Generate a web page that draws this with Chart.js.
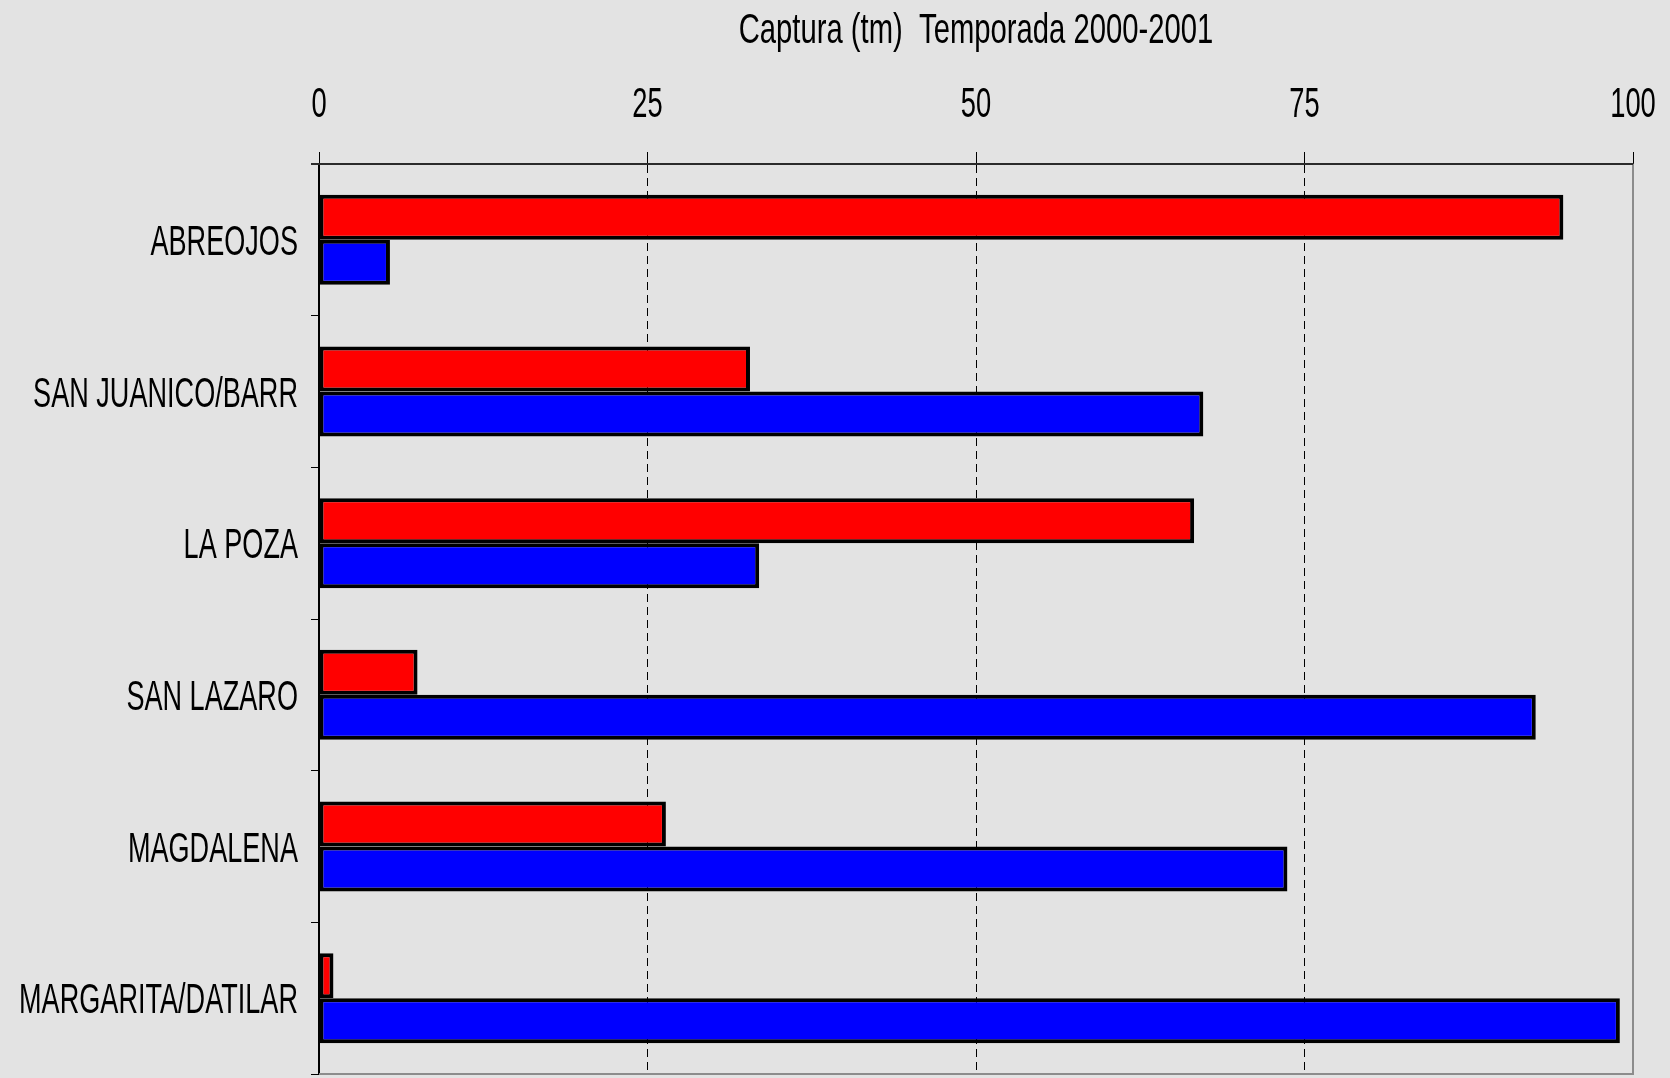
<!DOCTYPE html>
<html>
<head>
<meta charset="utf-8">
<script src="https://cdn.jsdelivr.net/npm/chart.js@4/dist/chart.umd.min.js"></script>
<style>
  html, body { margin: 0; padding: 0; background: #e3e3e3; }
  #wrap { width: 1670px; height: 1078px; position: relative; }
</style>
</head>
<body>
<div id="wrap"><canvas id="Chart1"></canvas></div>
<script>
// datos
const titulo = 'Captura (tm)  Temporada 2000-2001';
const localidades = ['ABREOJOS', 'SAN JUANICO/BARR', 'LA POZA', 'SAN LAZARO', 'MAGDALENA', 'MARGARITA/DATILAR'];
const serieRoja = [94.7, 32.8, 66.6, 7.5, 26.4, 1.1];
const serieAzul = [5.4, 67.3, 33.5, 92.6, 73.7, 99.0];
const valoresEje = [0, 25, 50, 75, 100];
const etiquetasEje = ['0', '25', '50', '75', '100'];

// texto angosto (la fuente original es muy condensada)
function textoAngosto(ctx, txt, x, y, escala, align) {
  ctx.save();
  ctx.translate(x, y);
  ctx.scale(escala, 1);
  ctx.textAlign = align;
  ctx.fillText(txt, 0, 0);
  ctx.restore();
}

const textos = {
  id: 'textos',
  afterDraw(chart) {
    const ctx = chart.ctx;
    const sx = chart.scales.x;
    const sy = chart.scales.y;
    const area = chart.chartArea;

    // marco derecho e inferior
    ctx.save();
    ctx.strokeStyle = '#8c8c8c';
    ctx.lineWidth = 2;
    ctx.beginPath();
    ctx.moveTo(area.right, area.top);
    ctx.lineTo(area.right, area.bottom);
    ctx.lineTo(area.left, area.bottom);
    ctx.stroke();
    // eje superior (linea continua)
    ctx.strokeStyle = '#2b2b2b';
    ctx.setLineDash([]);
    ctx.beginPath();
    ctx.moveTo(area.left - 8, area.top);
    ctx.lineTo(area.right, area.top);
    ctx.stroke();
    ctx.restore();

    ctx.save();
    ctx.fillStyle = '#000';
    ctx.textBaseline = 'alphabetic';

    // titulo
    ctx.font = '43px "Liberation Sans", Arial, sans-serif';
    textoAngosto(ctx, titulo, (area.left + area.right) / 2, 43, 0.68, 'center');

    // etiquetas del eje x
    ctx.font = '42px "Liberation Sans", Arial, sans-serif';
    valoresEje.forEach((v, i) => {
      textoAngosto(ctx, etiquetasEje[i], sx.getPixelForValue(v), 117, 0.65, 'center');
    });

    // etiquetas de categorias
    chart.data.labels.forEach((lab, i) => {
      textoAngosto(ctx, lab, 298, sy.getPixelForValue(i) + 15, 0.645, 'right');
    });
    ctx.restore();
  }
};

const ctx = document.getElementById('Chart1');

new Chart(ctx, {
  type: 'bar',
  data: {
    labels: localidades,
    datasets: [{
      label: 'Serie 1',
      data: serieRoja,
      backgroundColor: '#ff0000',
      borderColor: '#000',
      borderWidth: 4,
      borderSkipped: false
    }, {
      label: 'Serie 2',
      data: serieAzul,
      backgroundColor: '#0000ff',
      borderColor: '#000',
      borderWidth: 4,
      borderSkipped: false
    }]
  },
  options: {
    indexAxis: 'y',
    responsive: true,
    maintainAspectRatio: false,
    animation: false,
    layout: { padding: { top: 152, left: 311, right: 37, bottom: 4 } },
    datasets: {
      bar: { barPercentage: 1, categoryPercentage: 0.593 }
    },
    plugins: {
      legend: { display: false },
      tooltip: { enabled: false },
      title: { display: false }
    },
    scales: {
      x: {
        position: 'top',
        min: 0,
        max: 100,
        afterBuildTicks: scale => {
          scale.ticks = valoresEje.map(v => ({ value: v }));
        },
        ticks: { display: false },
        border: { display: true, color: '#2b2b2b', width: 2, dash: [8, 5] },
        grid: {
          color: c => (c.tick && (c.tick.value === 0 || c.tick.value === 100)) ? 'rgba(0,0,0,0)' : '#000',
          lineWidth: 1,
          tickBorderDash: [],
          tickColor: '#000',
          tickLength: 12,
          drawTicks: true
        }
      },
      y: {
        offset: true,
        ticks: { display: false },
        border: { display: true, color: '#000', width: 2 },
        grid: {
          offset: true,
          drawOnChartArea: false,
          drawTicks: true,
          tickLength: 8,
          tickColor: '#000',
          lineWidth: 1
        }
      }
    }
  },
  plugins: [textos]
});
</script>
</body>
</html>
